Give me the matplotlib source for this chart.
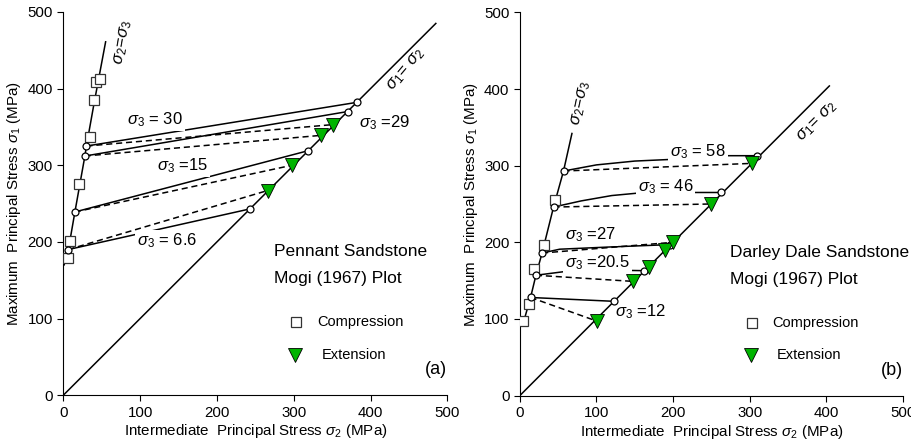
import matplotlib
matplotlib.use('Agg')
import matplotlib.pyplot as plt

plt.rcParams['font.family'] = ['Liberation Sans', 'DejaVu Sans']
plt.rcParams['mathtext.fontset'] = 'custom'
plt.rcParams['mathtext.rm'] = 'Liberation Sans'
plt.rcParams['mathtext.it'] = 'Liberation Sans:italic'

# ---- panel (a): Pennant Sandstone ----
comp_a_x = [6, 9, 20, 35, 40, 43, 48]
comp_a_y = [179, 201, 276, 337, 385, 409, 413]
ext_a_x = [266, 298, 336, 351]
ext_a_y = [267, 300, 339, 353]
s23_a_x = [1, 6.5, 15, 28, 30, 40, 55]
s23_a_y = [170, 190, 239, 312, 325, 381, 461]
circ_a_x = [6.5, 15, 28, 30, 243, 319, 370, 382]
circ_a_y = [190, 239, 312, 325, 243, 319, 370, 382]
solid_a = [([30, 382], [325, 382]),
           ([28, 370], [312, 370]),
           ([15, 319], [239, 319]),
           ([6.5, 243], [190, 243])]
dash_a = [([30, 351], [325, 353]),
          ([28, 336], [312, 339]),
          ([15, 298], [239, 300]),
          ([6.5, 266], [190, 267])]
lab_a = [(83, 360, r'$\sigma_3$ = 30'), (385, 356, r'$\sigma_3$ =29'),
         (122, 299, r'$\sigma_3$ =15'), (96, 201, r'$\sigma_3$ = 6.6')]

# ---- panel (b): Darley Dale Sandstone ----
comp_b_x = [4.4, 12, 19, 32, 46]
comp_b_y = [97, 119, 165, 197, 255]
ext_b_x = [101, 148, 169, 189, 200, 250, 303]
ext_b_y = [97, 149, 168, 190, 200, 250, 303]
s23_b_x = [6, 14, 21, 29, 44, 57, 68]
s23_b_y = [100, 128, 157, 186, 246, 293, 342]
circ_b_x = [14, 21, 29, 44, 57, 123, 162, 196, 263, 310]
circ_b_y = [128, 157, 186, 246, 293, 123, 163, 197, 265, 313]
solid_b = [([57, 100, 150, 194, 240, 272, 310], [293, 301, 306, 308, 311, 313, 313]),
           ([44, 80, 120, 152, 200, 231, 263], [246, 254, 261, 264, 265, 265, 265]),
           ([29, 52, 120, 196], [186, 191, 194, 197]),
           ([21, 60, 100, 162], [157, 162, 164, 163]),
           ([14, 123], [128, 123])]
dash_b = [([57, 303], [293, 303]),
          ([44, 250], [246, 250]),
          ([29, 200], [186, 200]),
          ([21, 148], [157, 149]),
          ([14, 101], [128, 97])]
lab_b = [(196, 318, r'$\sigma_3$ = 58'), (154, 272, r'$\sigma_3$ = 46'),
         (59, 210, r'$\sigma_3$ =27'), (59, 173, r'$\sigma_3$ =20.5'),
         (124, 110, r'$\sigma_3$ =12')]

green = '#00b400'


def panel(ax, comp_x, comp_y, ext_x, ext_y, s23x, s23y, cx, cy, solids, dashes,
          labels, diag_end, name, tag, s23_pos, s12_pos):
    ax.plot([0, diag_end], [0, diag_end], color='black', lw=1.1, zorder=2)
    ax.plot(s23x, s23y, color='black', lw=1.1, zorder=2)
    for xs, ys in solids:
        ax.plot(xs, ys, color='black', lw=1.1, zorder=2)
    for xs, ys in dashes:
        ax.plot(xs, ys, color='black', lw=1.1, ls=(0, (4, 2.5)), zorder=4)
    for x, y, t in labels:
        ax.text(x, y, t, fontsize=12, ha='left', va='center', zorder=3,
                bbox=dict(facecolor='white', edgecolor='none', pad=1.5))
    ax.plot(comp_x, comp_y, 's', ms=6.5, mfc='white', mec='#333333', mew=0.9, zorder=5)
    ax.plot(cx, cy, 'o', ms=5, mfc='white', mec='black', mew=0.9, zorder=6)
    ax.plot(ext_x, ext_y, 'v', ms=10, mfc=green, mec='black', mew=0.6, zorder=6)
    ax.text(s23_pos[0], s23_pos[1], r'$\sigma_2\!=\!\sigma_3$', fontsize=12,
            rotation=s23_pos[2], ha='center', va='center')
    ax.text(s12_pos[0], s12_pos[1], r'$\sigma_1\!=\,\sigma_2$', fontsize=12,
            rotation=s12_pos[2], ha='center', va='center')
    ax.text(274, 187, name, fontsize=12.5, ha='left', va='center')
    ax.text(274, 152, 'Mogi (1967) Plot', fontsize=12.5, ha='left', va='center')
    ax.plot([303], [95], 's', ms=6.5, mfc='white', mec='#333333', mew=0.9, clip_on=False)
    ax.text(330, 95, 'Compression', fontsize=10.5, ha='left', va='center')
    ax.plot([302], [53], 'v', ms=10, mfc=green, mec='black', mew=0.6, clip_on=False)
    ax.text(336, 53, 'Extension', fontsize=10.5, ha='left', va='center')
    ax.text(500, 33, tag, fontsize=13, ha='right', va='center')
    ax.set_xlim(0, 500)
    ax.set_ylim(0, 500)
    ax.set_xticks([0, 100, 200, 300, 400, 500])
    ax.set_yticks([0, 100, 200, 300, 400, 500])
    ax.spines['top'].set_visible(False)
    ax.spines['right'].set_visible(False)
    ax.tick_params(direction='out', length=4, labelsize=10.8)
    ax.set_xlabel(r'Intermediate  Principal Stress $\sigma_2$ (MPa)', fontsize=10.9, labelpad=2)
    ax.set_ylabel(r'Maximum  Principal Stress $\sigma_1$ (MPa)', fontsize=10.9, labelpad=3)


fig = plt.figure(figsize=(9.12, 4.42), dpi=100)
ax1 = fig.add_axes([0.0695, 0.106, 0.421, 0.867])
ax2 = fig.add_axes([0.570, 0.105, 0.420, 0.867])

panel(ax1, comp_a_x, comp_a_y, ext_a_x, ext_a_y, s23_a_x, s23_a_y, circ_a_x, circ_a_y,
      solid_a, dash_a, lab_a, 485, 'Pennant Sandstone', '(a)', (78, 461, 80), (446, 424, 50))
panel(ax2, comp_b_x, comp_b_y, ext_b_x, ext_b_y, s23_b_x, s23_b_y, circ_b_x, circ_b_y,
      solid_b, dash_b, lab_b, 404, 'Darley Dale Sandstone', '(b)', (80, 382, 78), (388, 357, 45))

fig.savefig('out.png', dpi=100)
